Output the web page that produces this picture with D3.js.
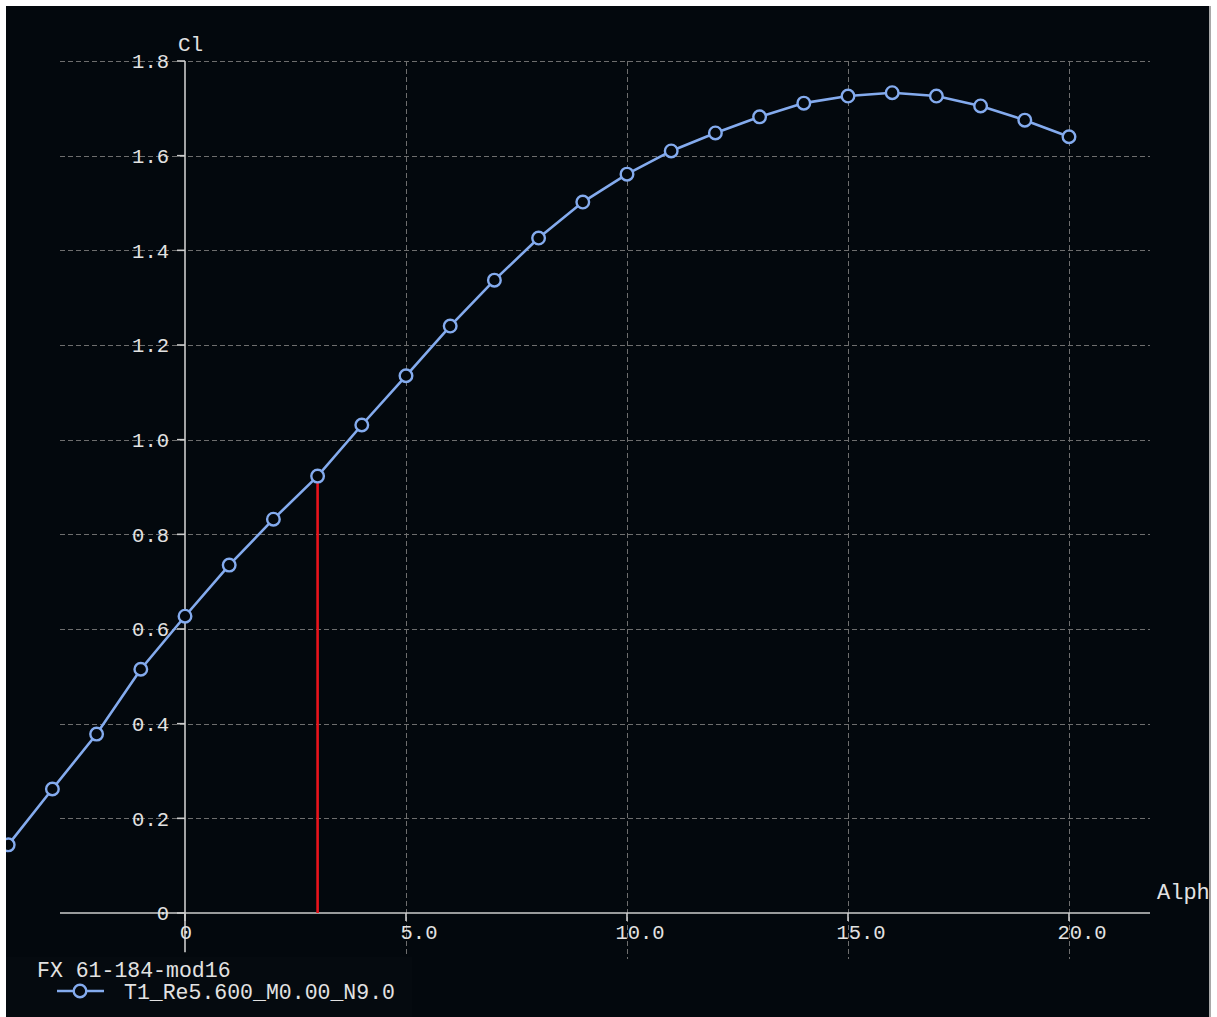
<!DOCTYPE html>
<html>
<head>
<meta charset="utf-8">
<script src="https://cdn.jsdelivr.net/npm/d3@7"></script>
<style>
  html, body { margin: 0; padding: 0; background: #ffffff; }
  svg { display: block; font-family: "Courier New", "Liberation Mono", monospace; }
</style>
</head>
<body>
<div id="chart"></div>
<script>
// polar data
const alphas   = [-4, -3, -2, -1, 0, 1, 2, 3, 4, 5, 6, 7, 8, 9, 10, 11, 12, 13, 14, 15, 16, 17, 18, 19, 20]
const clValues = [0.144, 0.262, 0.378, 0.515, 0.627, 0.735, 0.832, 0.923, 1.031, 1.135, 1.240, 1.337, 1.426,
                  1.502, 1.561, 1.610, 1.648, 1.682, 1.711, 1.726, 1.733, 1.726, 1.705, 1.675, 1.640]
const xTicks      = [0, 5, 10, 15, 20]
const xTickLabels = ['0', '5.0', '10.0', '15.0', '20.0']
const yTicks      = [0, 0.2, 0.4, 0.6, 0.8, 1.0, 1.2, 1.4, 1.6, 1.8]
const yTickLabels = ['0', '0.2', '0.4', '0.6', '0.8', '1.0', '1.2', '1.4', '1.6', '1.8']
const markerAlpha = 3
const foilName    = 'FX 61-184-mod16'
const polarName   = 'T1_Re5.600_M0.00_N9.0'

const width = 1217, height = 1017
const bg = '#03080d', lineColor = '#84abee', axisColor = '#cccccc', gridColor = '#6e6e6e', textColor = '#e2e2e2'

const svg = d3.select('#chart').append('svg').attr('width', width).attr('height', height)

// dark plot background with a thin grey edge on the right
svg.append('rect').attr('x', 6).attr('y', 6).attr('width', 1204).attr('height', height - 6).attr('fill', bg)
svg.append('line').attr('x1', 1210).attr('x2', 1210).attr('y1', 6).attr('y2', height).attr('stroke', '#a8a8a8').attr('stroke-width', 2)

svg.append('clipPath').attr('id', 'plotClip')
  .append('rect').attr('x', 6).attr('y', 6).attr('width', 1203).attr('height', height - 6)

const x = d3.scaleLinear().domain([0, 20]).range([185, 1069])
const y = d3.scaleLinear().domain([0, 1.8]).range([913, 61])

const xMin = x.invert(60), xMax = x.invert(1150)
const yLow = y.invert(959)

const g = svg.append('g').attr('clip-path', 'url(#plotClip)')

// grid
g.selectAll('.hgrid').data(yTicks.slice(1)).enter().append('line')
  .attr('x1', x(xMin)).attr('x2', x(xMax))
  .attr('y1', d => Math.round(y(d)) + 0.5).attr('y2', d => Math.round(y(d)) + 0.5)
  .attr('stroke', gridColor).attr('stroke-dasharray', '5,3').attr('stroke-width', 1)
g.selectAll('.vgrid').data(xTicks.slice(1)).enter().append('line')
  .attr('x1', d => Math.round(x(d)) + 0.5).attr('x2', d => Math.round(x(d)) + 0.5)
  .attr('y1', y(1.8)).attr('y2', y(yLow))
  .attr('stroke', gridColor).attr('stroke-dasharray', '5,3').attr('stroke-width', 1)

// axes
g.append('line').attr('x1', x(xMin)).attr('x2', x(xMax)).attr('y1', y(0)).attr('y2', y(0))
  .attr('stroke', axisColor).attr('stroke-width', 1.6)
g.append('line').attr('x1', x(0)).attr('x2', x(0)).attr('y1', y(1.8)).attr('y2', y(-0.083))
  .attr('stroke', axisColor).attr('stroke-width', 1.6)
g.selectAll('.ytick').data(yTicks).enter().append('line')
  .attr('x1', x(0) - 8).attr('x2', x(0)).attr('y1', d => y(d)).attr('y2', d => y(d))
  .attr('stroke', axisColor).attr('stroke-width', 1.6)
g.selectAll('.xtick').data(xTicks).enter().append('line')
  .attr('x1', d => x(d)).attr('x2', d => x(d)).attr('y1', y(0)).attr('y2', y(0) + 8)
  .attr('stroke', axisColor).attr('stroke-width', 1.6)

// tick labels
g.selectAll('.ylab').data(yTicks).enter().append('text')
  .attr('x', x(0) - 16).attr('y', d => y(d)).attr('dy', '0.35em')
  .attr('text-anchor', 'end').attr('fill', textColor).style('font-size', '20.5px')
  .text((d, i) => yTickLabels[i])
g.selectAll('.xlab').data(xTicks).enter().append('text')
  .attr('x', d => x(d) + (d == 0 ? 1 : 13)).attr('y', y(0) + 26)
  .attr('text-anchor', 'middle').attr('fill', textColor).style('font-size', '20.5px')
  .text((d, i) => xTickLabels[i])

// axis titles
g.append('text').attr('x', 178).attr('y', 51).attr('fill', textColor).style('font-size', '21px').text('Cl')
g.append('text').attr('x', 1157).attr('y', 899).attr('fill', textColor).style('font-size', '22px').text('Alpha')

// red operating-point marker
const mi = alphas.indexOf(markerAlpha)
g.append('line').attr('x1', x(markerAlpha)).attr('x2', x(markerAlpha))
  .attr('y1', y(0)).attr('y2', y(clValues[mi]))
  .attr('stroke', '#e8141c').attr('stroke-width', 2.6)

// polar curve
const pts = alphas.map((a, i) => ({ a: a, cl: clValues[i] }))
g.append('path').datum(pts)
  .attr('fill', 'none').attr('stroke', lineColor).attr('stroke-width', 2.6)
  .attr('d', d3.line().x(d => x(d.a)).y(d => y(d.cl)))
g.selectAll('.pt').data(pts).enter().append('circle')
  .attr('cx', d => x(d.a)).attr('cy', d => y(d.cl)).attr('r', 6.3)
  .attr('fill', bg).attr('stroke', lineColor).attr('stroke-width', 2.4)

// legend
const legBg = '#050a0f'
const leg = svg.append('g')
leg.append('rect').attr('x', 6).attr('y', 957).attr('width', 406).attr('height', height - 957).attr('fill', legBg)
leg.append('text').attr('x', 37).attr('y', 977).attr('fill', textColor).style('font-size', '21.5px').text(foilName)
leg.append('line').attr('x1', 57).attr('x2', 104).attr('y1', 991).attr('y2', 991)
  .attr('stroke', lineColor).attr('stroke-width', 2.6)
leg.append('circle').attr('cx', 80).attr('cy', 991).attr('r', 6.3)
  .attr('fill', legBg).attr('stroke', lineColor).attr('stroke-width', 2.4)
leg.append('text').attr('x', 124).attr('y', 999).attr('fill', textColor).style('font-size', '21.5px').text(polarName)
</script>
</body>
</html>
